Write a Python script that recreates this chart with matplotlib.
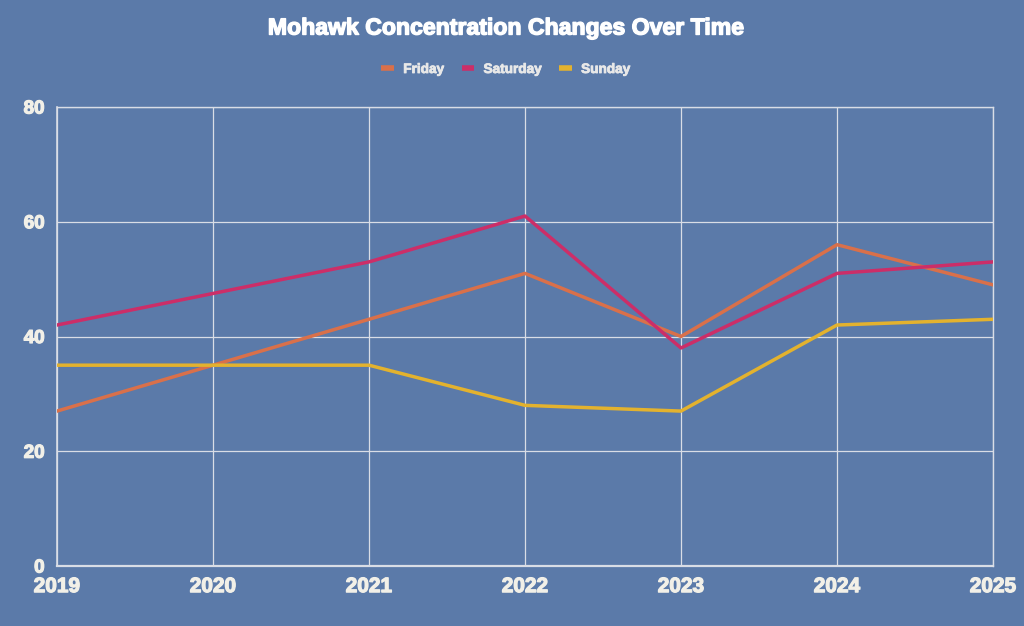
import numpy as np
import matplotlib.pyplot as plt
import matplotlib.patheffects as pe

years = [2019, 2020, 2021, 2022, 2023, 2024, 2025]
friday = [27, 35, 43, 51, 40, 56, 49]
saturday = [42, 47.5, 53, 61, 38, 51, 53]
sunday = [35, 35, 35, 28, 27, 42, 43]

bg = '#5b7aa9'
txt = '#f2f0e8'
grid_c = '#d9dde6'

plt.rcParams['font.family'] = ['Liberation Sans', 'DejaVu Sans']
plt.rcParams['font.weight'] = 'bold'

fig = plt.figure(figsize=(10.24, 6.26), dpi=100, facecolor=bg)
ax = fig.add_axes([57 / 1024, 1 - 566 / 626, 936 / 1024, 459 / 626])
ax.set_facecolor(bg)

ax.plot(years, friday, color='#d9704a', lw=2.5, label='Friday')
ax.plot(years, saturday, color='#cc2e68', lw=2.5, label='Saturday')
ax.plot(years, sunday, color='#e3b22e', lw=2.5, label='Sunday')

ax.set_xlim(2019, 2025)
ax.set_ylim(0, 80)
ax.set_xticks(years)
ax.set_yticks([0, 20, 40, 60, 80])
ax.grid(True, color=grid_c, lw=0.9)
ax.set_axisbelow(True)
for s in ax.spines.values():
    s.set_visible(False)
ax.axhline(0, color=grid_c, lw=1.6, clip_on=False, zorder=1)
ax.axvline(2019, color=grid_c, lw=1.2, clip_on=False, zorder=1)
ax.axhline(80, color=grid_c, lw=1.0, clip_on=False, zorder=1)
ax.axvline(2025, color=grid_c, lw=1.0, clip_on=False, zorder=1)

# heavier glyphs, the reference uses a very bold face
thick = [pe.withStroke(linewidth=0.9, foreground=txt)]

ax.tick_params(axis='both', length=0, colors=txt)
ax.tick_params(axis='x', labelsize=15, pad=8)
ax.tick_params(axis='y', labelsize=13.5, pad=9)
for lab in ax.get_xticklabels() + ax.get_yticklabels():
    lab.set_fontweight('bold')
    lab.set_path_effects(thick)

fig.text(504.5 / 1024, 1 - 28 / 626, 'Mohawk Concentration Changes Over Time',
         ha='center', va='center', color='white', fontsize=16.6, fontweight='bold',
         path_effects=[pe.withStroke(linewidth=1.0, foreground='white')])

leg = fig.legend(loc='center', bbox_to_anchor=(0.494, 1 - 69 / 626), ncol=3,
                 frameon=False, fontsize=9.8, handlelength=0.9, handletextpad=0.7,
                 columnspacing=1.3)
for t in leg.get_texts():
    t.set_color('#e8e8e8')
    t.set_fontweight('bold')
    t.set_path_effects([pe.withStroke(linewidth=0.6, foreground='#e8e8e8')])
for h in leg.legend_handles:
    h.set_linewidth(4)
    h.set_solid_capstyle('butt')

plt.savefig('out.png', dpi=100, facecolor=bg)
